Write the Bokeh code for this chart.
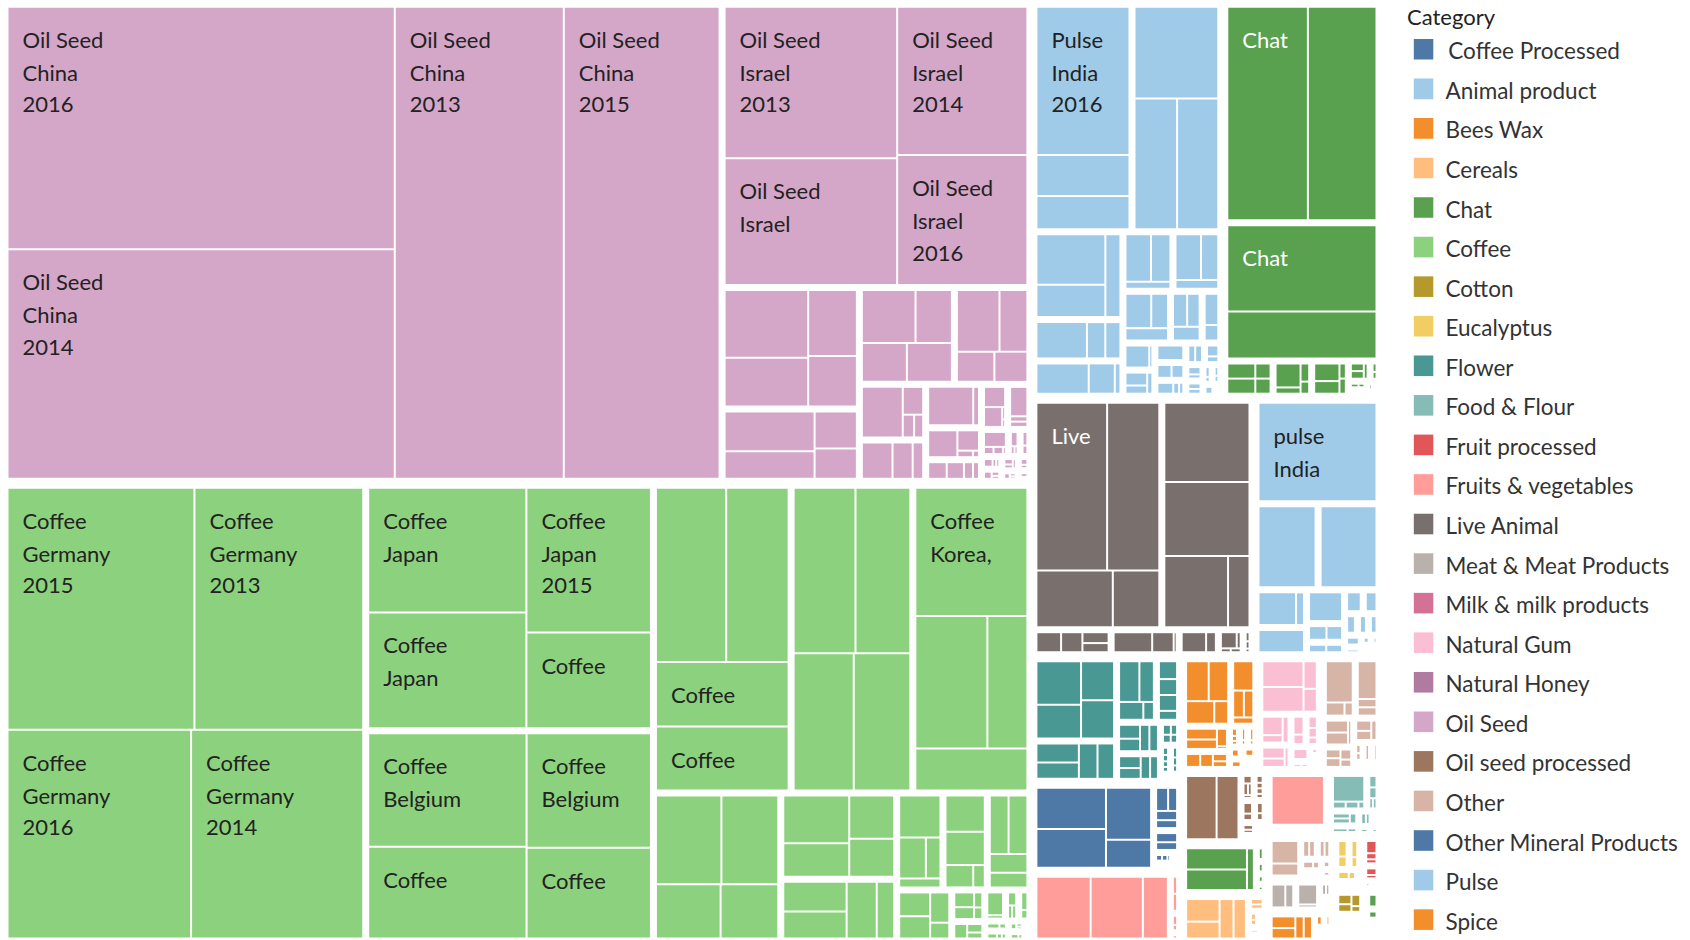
from bokeh.plotting import figure
from bokeh.models import ColumnDataSource, Range1d
from bokeh.core.properties import value
from bokeh.embed import file_html
from bokeh.resources import INLINE

# ---------------------------------------------------------------- data
YEARS = ["2013", "2014", "2015", "2016"]

# each country: (name or None when not readable, values by year 2013..2016)
OIL_SEED = [
    ("China", [79.3, 88.4, 73.1, 93.3]),
    ("Israel", [26.4, 19.5, 22.1, 17.1]),
    (None, [6.0, 4.3, 3.4, 2.6]),
    (None, [3.9, 2.7, 1.7, 1.4]),
    (None, [3.1, 2.1, 1.9, 1.9]),
    (None, [2.9, 1.9, 1.25, 1.1]),
    (None, [2.4, 0.66, 0.3, 0.24]),
    (None, [1.34, 0.88, 0.46]),
    (None, [2.1, 0.27]),
    (None, [1.0, 0.56, 0.13, 0.05]),
    (None, [0.43, 0.4, 0.21, 0.14]),
    (None, [0.58, 0.49, 0.05, 0.03]),
    (None, [0.72, 0.13, 0.13]),
    (None, [0.48, 0.1, 0.1, 0.03]),
    (None, [0.16, 0.1]),
    (None, [0.14, 0.06, 0.05]),
    (None, [0.1, 0.06]),
    (None, [0.08, 0.04]),
    (None, [0.2, 0.06, 0.05]),
    (None, [0.12, 0.07, 0.05]),
    (None, [0.1, 0.07, 0.06]),
    (None, [0.08, 0.05, 0.04]),
]
COFFEE = [
    ("Germany", [40.9, 36.0, 45.3, 38.4]),
    ("Japan", [18.6, 12.1, 18.3, 20.0]),
    ("Belgium", [14.8, 11.5, 14.5, 18.3]),
    (None, [8.85, 8.75, 11.2, 12.6]),
    (None, [10.6, 9.4, 8.55, 8.05]),
    ("Korea, Republic of", [14.9, 9.9, 5.5, 4.9]),
    (None, [6.1, 5.3, 3.7, 3.3]),
    (None, [3.4, 2.1, 2.4, 1.85]),
    (None, [2.1, 1.9, 1.9, 1.1]),
    (None, [2.0, 1.26, 0.69, 0.43]),
    (None, [1.65, 1.52, 0.72, 0.3]),
    (None, [1.28, 1.28, 0.83, 0.64]),
    (None, [0.88, 0.82, 0.69, 0.36]),
    (None, [0.4, 0.32, 0.17, 0.13]),
    (None, [0.29, 0.2, 0.14]),
    (None, [0.55, 0.08]),
    (None, [0.23, 0.11]),
    (None, [0.2, 0.1, 0.1]),
    (None, [0.15, 0.08]),
    (None, [0.12, 0.06, 0.05]),
    (None, [0.1, 0.05]),
    (None, [0.08, 0.05, 0.04]),
    (None, [0.06, 0.04]),
]
PULSE = [
    ("India", [None, 3.3, 4.1, 14.8]),
    (None, [8.3, 6.0, 5.8]),
    (None, [3.9, 2.5, 1.4]),
    (None, [1.47, 1.12, 0.38]),
    (None, [1.42, 0.96, 0.46]),
    (None, [1.09, 0.65, 0.71]),
    (None, [2.2, 0.8, 0.66]),
    (None, [1.95, 0.97, 0.21]),
    (None, [0.61, 0.54, 0.48]),
    (None, [0.64, 0.32]),
    (None, [0.41, 0.26, 0.16]),
    (None, [0.76, 0.1]),
    (None, [0.3, 0.11, 0.08]),
    (None, [0.6]),
    (None, [0.3, 0.25]),
    (None, [0.2, 0.2]),
    (None, [0.23, 0.12]),
    (None, [0.18, 0.1]),
    (None, [0.14, 0.12]),
    (None, [0.14]),
    (None, [0.12, 0.06]),
    (None, [0.1, 0.07]),
    (None, [0.07]),
]
CHAT = [
    (None, [18.2, 15.5]),
    (None, [13.8, 7.5]),
    (None, [0.55, 0.3, 0.55, 0.3]),
    (None, [0.8, 0.21, 0.21, 0.14]),
    (None, [0.6, 0.13, 0.13, 0.43]),
    (None, [0.17, 0.1, 0.17]),
    (None, [0.1, 0.08]),
    (None, [0.09, 0.07]),
    (None, [0.08]),
    (None, [0.07, 0.05]),
    (None, [0.05]),
    (None, [0.05]),
]
LIVE_ANIMAL = [
    (None, [12.6, 9.3, 4.6, 2.8]),
    (None, [7.3, 6.8, 4.9, 1.65]),
    (None, [0.66, 0.57, 0.38, 0.32]),
    (None, [1.04, 0.58, 0.08]),
    (None, [0.7, 0.28]),
    (None, [0.4, 0.1, 0.06, 0.06]),
    (None, [0.1, 0.08, 0.04]),
]
PULSE_LOWER = [
    ("India", [12.9]),
    (None, [5.4]), (None, [5.3]), (None, [1.59, 0.34]), (None, [1.39]),
    (None, [1.3]), (None, [0.38, 0.34]), (None, [0.38]), (None, [0.45]),
    (None, [0.28]), (None, [0.2]), (None, [0.23]), (None, [0.25, 0.23]),
    (None, [0.24]), (None, [0.13]), (None, [0.1]), (None, [0.08]),
    (None, [0.06]), (None, [0.06]), (None, [0.05]),
]
FLOWER = [
    (None, [2.25, 1.46, 1.75, 1.5]),
    (None, [1.0, 0.82, 0.87, 0.73]),
    (None, [1.05, 0.75, 0.55, 0.24]),
    (None, [0.4, 0.36, 0.34, 0.31]),
    (None, [0.41, 0.46, 0.41, 0.23]),
    (None, [0.36, 0.25, 0.3, 0.33]),
    (None, [0.14, 0.11, 0.11, 0.09]),
    (None, [0.09, 0.08, 0.07, 0.06]),
    (None, [0.11, 0.09, 0.07]),
    (None, [0.08, 0.06]),
]
OTHER_MINERAL = [
    (None, [3.3, 2.7, 3.1, 1.45]),
    (None, [0.4, 0.28, 0.3, 0.24]),
    (None, [0.32, 0.27]),
    (None, [0.09, 0.04, 0.08]),
    (None, [0.07]), (None, [0.08, 0.06]), (None, [0.06]),
]
FRUITS_VEG = [
    (None, [3.95, 3.8, 1.82]), (None, [0.19, 0.19]), (None, [0.12, 0.07]), (None, [0.08]),
]
SPICE = [
    (None, [1.15, 0.99, 0.81, 0.4]),
    (None, [0.84, 0.41, 0.36, 0.18]),
    (None, [0.49, 0.43, 0.26, 0.04]),
    (None, [0.27, 0.3, 0.13, 0.17]),
    (None, [0.13, 0.04]), (None, [0.13, 0.05]), (None, [0.13, 0.05]),
    (None, [0.15]), (None, [0.07]), (None, [0.15]), (None, [0.08]),
    (None, [0.1, 0.07, 0.05]),
]
NATURAL_GUM = [
    (None, [1.36, 0.47, 1.3, 0.39]),
    (None, [0.57, 0.23, 0.23]),
    (None, [0.16, 0.19, 0.11]),
    (None, [0.39, 0.3, 0.12]),
    (None, [0.34, 0.18]),
    (None, [0.09, 0.07]), (None, [0.3]), (None, [0.07]), (None, [0.09]), (None, [0.07]),
]
OTHER = [
    (None, [1.54, 0.34, 0.15]),
    (None, [1.05, 0.23, 0.23]),
    (None, [0.41, 0.41, 0.12]),
    (None, [0.21, 0.13, 0.21, 0.18]),
    (None, [0.26, 0.17, 0.23]),
    (None, [0.16]), (None, [0.18]), (None, [0.11, 0.09]), (None, [0.09, 0.05]), (None, [0.05]),
]
OIL_SEED_PROCESSED = [
    (None, [2.45, 1.76]),
    (None, [0.1, 0.08, 0.08, 0.06]),
    (None, [0.04]), (None, [0.05, 0.03]),
    (None, [0.05, 0.11, 0.09, 0.13]),
    (None, [0.2, 0.12]), (None, [0.15, 0.1]), (None, [0.12, 0.08]), (None, [0.1]), (None, [0.08]),
]
FOOD_FLOUR = [
    (None, [1.2, 0.13, 0.13, 0.06]),
    (None, [0.18, 0.17, 0.08, 0.08]),
    (None, [0.17, 0.13, 0.17]),
    (None, [0.17, 0.1]), (None, [0.1, 0.13]), (None, [0.12]), (None, [0.1]), (None, [0.08]),
]
CEREALS = [
    (None, [1.02, 0.76, 0.74, 0.66]),
    (None, [0.15, 0.12]), (None, [0.1, 0.08]), (None, [0.12]), (None, [0.1]), (None, [0.08]), (None, [0.07]),
]
MEAT = [(None, [0.68, 0.1]), (None, [0.55, 0.32]), (None, [0.12, 0.1]), (None, [0.1]), (None, [0.08])]
BEES_WAX = [(None, [0.4, 0.45, 0.3, 0.3]), (None, [0.15]), (None, [0.12]), (None, [0.1]), (None, [0.08]), (None, [0.1])]
EUCALYPTUS = [(None, [0.3, 0.2]), (None, [0.25, 0.15]), (None, [0.2, 0.12]), (None, [0.1, 0.08]), (None, [0.05])]
FRUIT_PROCESSED = [(None, [0.3, 0.15, 0.1]), (None, [0.2, 0.1]), (None, [0.08]), (None, [0.07])]
COTTON = [(None, [0.25, 0.2, 0.2, 0.1]), (None, [0.12]), (None, [0.08])]
NATURAL_HONEY = [(None, [0.15, 0.1]), (None, [0.05])]
MILK = [(None, [0.12, 0.1]), (None, [0.08])]
ANIMAL_PRODUCT = [(None, [0.12, 0.08])]
COFFEE_PROCESSED = [(None, [0.15])]
# categories whose legend entries are below the visible part of the legend
UNLISTED_PINK = [(None, [3.4]), (None, [0.45])]
UNLISTED_GREEN = [(None, [1.7, 1.65, 0.38]), (None, [0.15]), (None, [0.12]), (None, [0.1]), (None, [0.08])]
UNLISTED_BROWN = [(None, [0.92, 0.49]), (None, [0.17]), (None, [0.17, 0.1]), (None, [0.19, 0.2]),
                  (None, [0.17, 0.17]), (None, [0.12]), (None, [0.1])]
UNLISTED_GREEN2 = [(None, [0.3]), (None, [0.2])]

CATEGORIES = [
    ("Oil Seed", OIL_SEED), ("Coffee", COFFEE), ("Pulse", PULSE), ("Chat", CHAT),
    ("Live Animal", LIVE_ANIMAL), ("pulse", PULSE_LOWER), ("Flower", FLOWER),
    ("Other Mineral Products", OTHER_MINERAL), ("Fruits & vegetables", FRUITS_VEG),
    ("Spice", SPICE), ("Natural Gum", NATURAL_GUM), ("Other", OTHER),
    ("Oil seed processed", OIL_SEED_PROCESSED), ("unlisted (green)", UNLISTED_GREEN),
    ("Cereals", CEREALS), ("unlisted (pink)", UNLISTED_PINK), ("Food & Flour", FOOD_FLOUR),
    ("unlisted (brown)", UNLISTED_BROWN), ("Meat & Meat Products", MEAT), ("Bees Wax", BEES_WAX),
    ("Eucalyptus", EUCALYPTUS), ("Fruit processed", FRUIT_PROCESSED), ("Cotton", COTTON),
    ("unlisted (green 2)", UNLISTED_GREEN2), ("Natural Honey", NATURAL_HONEY),
    ("Milk & milk products", MILK), ("Animal product", ANIMAL_PRODUCT),
    (" Coffee Processed", COFFEE_PROCESSED),
]

LEGEND = [" Coffee Processed", "Animal product", "Bees Wax", "Cereals", "Chat", "Coffee",
          "Cotton", "Eucalyptus", "Flower", "Food & Flour", "Fruit processed",
          "Fruits & vegetables", "Live Animal", "Meat & Meat Products", "Milk & milk products",
          "Natural Gum", "Natural Honey", "Oil Seed", "Oil seed processed", "Other",
          "Other Mineral Products", "Pulse", "Spice"]

COLORS = {
    " Coffee Processed": "#4E79A7", "Animal product": "#A0CBE8", "Bees Wax": "#F28E2B",
    "Cereals": "#FFBE7D", "Chat": "#59A14F", "Coffee": "#8CD17D", "Cotton": "#B6992D",
    "Eucalyptus": "#F1CE63", "Flower": "#499894", "Food & Flour": "#86BCB6",
    "Fruit processed": "#E15759", "Fruits & vegetables": "#FF9D9A", "Live Animal": "#79706E",
    "Meat & Meat Products": "#BAB0AC", "Milk & milk products": "#D37295",
    "Natural Gum": "#FABFD2", "Natural Honey": "#B07AA1", "Oil Seed": "#D4A6C8",
    "Oil seed processed": "#9D7660", "Other": "#D7B5A6", "Other Mineral Products": "#4E79A7",
    "Pulse": "#A0CBE8", "Spice": "#F28E2B", "pulse": "#A0CBE8",
    "unlisted (green)": "#59A14F", "unlisted (pink)": "#FF9D9A",
    "unlisted (brown)": "#D7B5A6", "unlisted (green 2)": "#59A14F",
}

# mark labels: (category, country index, year, text)
LABELS = [
    ("Oil Seed", 0, "2016", "Oil Seed\nChina\n2016"),
    ("Oil Seed", 0, "2014", "Oil Seed\nChina\n2014"),
    ("Oil Seed", 0, "2013", "Oil Seed\nChina\n2013"),
    ("Oil Seed", 0, "2015", "Oil Seed\nChina\n2015"),
    ("Oil Seed", 1, "2013", "Oil Seed\nIsrael\n2013"),
    ("Oil Seed", 1, "2014", "Oil Seed\nIsrael\n2014"),
    ("Oil Seed", 1, "2015", "Oil Seed\nIsrael"),
    ("Oil Seed", 1, "2016", "Oil Seed\nIsrael\n2016"),
    ("Coffee", 0, "2015", "Coffee\nGermany\n2015"),
    ("Coffee", 0, "2013", "Coffee\nGermany\n2013"),
    ("Coffee", 0, "2016", "Coffee\nGermany\n2016"),
    ("Coffee", 0, "2014", "Coffee\nGermany\n2014"),
    ("Coffee", 1, "2016", "Coffee\nJapan"),
    ("Coffee", 1, "2013", "Coffee\nJapan"),
    ("Coffee", 1, "2015", "Coffee\nJapan\n2015"),
    ("Coffee", 1, "2014", "Coffee"),
    ("Coffee", 2, "2016", "Coffee\nBelgium"),
    ("Coffee", 2, "2015", "Coffee\nBelgium"),
    ("Coffee", 2, "2013", "Coffee"),
    ("Coffee", 2, "2014", "Coffee"),
    ("Coffee", 3, "2013", "Coffee"),
    ("Coffee", 3, "2014", "Coffee"),
    ("Coffee", 5, "2013", "Coffee\nKorea,"),
    ("Pulse", 0, "2016", "Pulse\nIndia\n2016"),
    ("Chat", 0, "2013", "Chat"),
    ("Chat", 1, "2013", "Chat"),
    ("Live Animal", 0, "2013", "Live"),
    ("pulse", 0, "2013", "pulse\nIndia"),
]

# ---------------------------------------------------------------- layout
RATIO = 1.7
PAD_CAT, PAD_COUNTRY, PAD_LEAF = 2.0, 2.5, 1.0
W, H = 1690, 940
BOX = (2.5, 1.8, 1380.5, 942.5)


def squarify(vals, box, ratio=RATIO):
    x0, y0, x1, y1 = box
    order = sorted(range(len(vals)), key=lambda i: -vals[i])
    v = [vals[i] for i in order]
    out = [None] * len(vals)
    total = float(sum(v))
    n = len(v)
    i0 = 0
    while i0 < n:
        dx, dy = x1 - x0, y1 - y0
        if dx <= 1e-9 or dy <= 1e-9 or total <= 0:
            for k in range(i0, n):
                out[order[k]] = (x0, y0, max(x0, x1), max(y0, y1))
            break
        i1 = i0
        s = v[i1]
        i1 += 1
        mn = mx = s
        alpha = max(dy / dx, dx / dy) / (total * ratio)
        beta = s * s * alpha
        best = max(mx / beta, beta / mn)
        while i1 < n:
            nv = v[i1]
            s2 = s + nv
            mn2, mx2 = min(mn, nv), max(mx, nv)
            beta = s2 * s2 * alpha
            r2 = max(mx2 / beta, beta / mn2)
            if r2 > best:
                break
            best, s, mn, mx = r2, s2, mn2, mx2
            i1 += 1
        if dx < dy:
            yy = y0 + dy * s / total
            cx = x0
            for k in range(i0, i1):
                w = dx * v[k] / s
                out[order[k]] = (cx, y0, cx + w, yy)
                cx += w
            y0 = yy
        else:
            xx = x0 + dx * s / total
            cy = y0
            for k in range(i0, i1):
                h = dy * v[k] / s
                out[order[k]] = (x0, cy, xx, cy + h)
                cy += h
            x0 = xx
        total -= s
        i0 = i1
    return out


def inset(r, d):
    x0, y0, x1, y1 = r
    if x1 - x0 < 2 * d:
        x0 = x1 = (x0 + x1) / 2
    else:
        x0, x1 = x0 + d, x1 - d
    if y1 - y0 < 2 * d:
        y0 = y1 = (y0 + y1) / 2
    else:
        y0, y1 = y0 + d, y1 - d
    return (x0, y0, x1, y1)


def luminance(hex_color):
    rgb = [int(hex_color[i:i + 2], 16) / 255 for i in (1, 3, 5)]
    lin = [c / 12.92 if c <= 0.03928 else ((c + 0.055) / 1.055) ** 2.4 for c in rgb]
    return 0.2126 * lin[0] + 0.7152 * lin[1] + 0.0722 * lin[2]


leaf = dict(left=[], right=[], top=[], bottom=[], color=[])
leaf_rect = {}
cat_totals = [sum(x for _, vals in countries for x in vals if x) for _, countries in CATEGORIES]
cat_rects = squarify(cat_totals, BOX)
for (cat, countries), crect in zip(CATEGORIES, cat_rects):
    inner = inset(crect, PAD_CAT)
    ctot = [sum(x for x in vals if x) for _, vals in countries]
    co_rects = squarify(ctot, inner)
    for ci, ((name, vals), corect) in enumerate(zip(countries, co_rects)):
        cin = inset(corect, PAD_COUNTRY)
        items = [(YEARS[j], x) for j, x in enumerate(vals) if x]
        lrects = squarify([x for _, x in items], cin)
        for (yr, x), lr in zip(items, lrects):
            vis = inset(lr, PAD_LEAF)
            leaf_rect[(cat, ci, yr)] = vis
            if vis[2] - vis[0] < 0.3 or vis[3] - vis[1] < 0.3:
                continue
            leaf["left"].append(vis[0])
            leaf["right"].append(vis[2])
            leaf["top"].append(vis[1])
            leaf["bottom"].append(vis[3])
            leaf["color"].append(COLORS[cat])

# ---------------------------------------------------------------- figure
p = figure(width=W, height=H, x_range=Range1d(0, W), y_range=Range1d(H, 0),
           x_axis_type=None, y_axis_type=None, output_backend="svg",
           toolbar_location=None, min_border=0)
p.grid.visible = False
p.outline_line_color = None
p.background_fill_color = "white"
p.border_fill_color = "white"

p.quad(left="left", right="right", top="top", bottom="bottom", fill_color="color",
       line_color=None, source=ColumnDataSource(leaf))

FONT = "Lato"
lab = dict(x=[], y=[], text=[], color=[])
for cat, ci, yr, text in LABELS:
    r = leaf_rect[(cat, ci, yr)]
    col = "#ffffff" if luminance(COLORS[cat]) < 0.35 else "#222222"
    for i, line in enumerate(text.split("\n")):
        lab["x"].append(r[0] + 14)
        lab["y"].append(r[1] + 31.5 + 32.8 * i)
        lab["text"].append(line)
        lab["color"].append(col)
p.text(x="x", y="y", text="text", text_color="color", source=ColumnDataSource(lab),
       text_font=value(FONT), text_font_size="22px", text_baseline="middle",
       text_align="left")

# legend
LEG_X, LEG_Y0, LEG_STEP = 1413.3, 48.8, 39.56
leg = dict(left=[], right=[], top=[], bottom=[], color=[], tx=[], ty=[], text=[])
for i, name in enumerate(LEGEND):
    cy = LEG_Y0 + LEG_STEP * i
    leg["left"].append(LEG_X)
    leg["right"].append(LEG_X + 19.5)
    leg["top"].append(cy - 10.3)
    leg["bottom"].append(cy + 10.3)
    leg["color"].append(COLORS[name])
    leg["tx"].append(LEG_X + 31.7)
    leg["ty"].append(cy + 1.5)
    leg["text"].append(name.replace(" ", "\u2009", 1) if name.startswith(" ") else name)
lsrc = ColumnDataSource(leg)
p.quad(left="left", right="right", top="top", bottom="bottom", fill_color="color",
       line_color=None, source=lsrc)
p.text(x="tx", y="ty", text="text", source=lsrc, text_color="#333333",
       text_font=value(FONT), text_font_size="22.5px", text_baseline="middle")
p.text(x=[1406.5], y=[15.5], text=["Category"], text_color="#222222",
       text_font=value(FONT), text_font_size="22px", text_baseline="middle")

open("out.html", "w").write(file_html(p, INLINE))
